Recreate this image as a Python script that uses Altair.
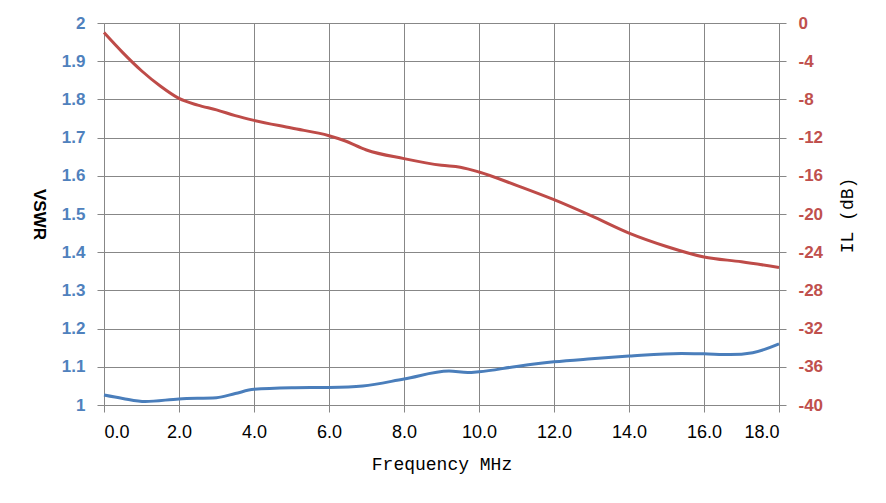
import altair as alt
import pandas as pd

# Insertion loss series (red, right axis)
il_freq = [0, 0.5, 1, 1.5, 2, 2.5, 3, 3.5, 4, 5, 6, 6.4, 7, 8, 9, 9.5, 10, 11, 12, 13, 14, 15, 16, 17, 18]
il_db = [-1.0, -3.1, -5.0, -6.6, -7.9, -8.6, -9.1, -9.7, -10.2, -11.0, -11.8, -12.3, -13.3, -14.2,
         -14.9, -15.1, -15.6, -17.0, -18.5, -20.2, -22.0, -23.4, -24.5, -25.0, -25.6]

# VSWR series (blue, left axis)
vswr_freq = [0, 0.5, 1.1, 2, 3, 3.5, 4, 5, 6, 6.9, 8, 9.2, 9.7, 10, 11, 12, 13, 14, 15.4, 16, 16.7, 17.3, 18]
vswr_val = [1.026, 1.017, 1.009, 1.016, 1.019, 1.030, 1.041, 1.045, 1.046, 1.050, 1.068, 1.089, 1.085,
            1.087, 1.101, 1.113, 1.121, 1.128, 1.135, 1.134, 1.132, 1.137, 1.160]

x_ticks = [0, 2, 4, 6, 8, 10, 12, 14, 16, 18]
vswr_ticks = [1.0, 1.1, 1.2, 1.3, 1.4, 1.5, 1.6, 1.7, 1.8, 1.9, 2.0]
il_ticks = [-40, -36, -32, -28, -24, -20, -16, -12, -8, -4, 0]

BLUE_LINE = "#4A7EBB"
RED_LINE = "#BE4B48"
BLUE_TXT = "#4F81BD"
RED_TXT = "#C0504D"
GRID = "#878787"

df_il = pd.DataFrame({"f": il_freq, "il": il_db})
df_vswr = pd.DataFrame({"f": vswr_freq, "v": vswr_val})

x_enc = alt.X(
    "f:Q",
    scale=alt.Scale(domain=[0, 18], nice=False, zero=False),
    axis=alt.Axis(
        values=x_ticks, format=".1f", title="Frequency MHz",
        grid=True, gridColor=GRID, gridWidth=1,
        domainColor=GRID, tickColor=GRID, tickSize=7,
        labelFont="Liberation Sans", labelFontSize=18, labelColor="#000000", labelPadding=11,
        titleFont="Liberation Mono", titleFontSize=18, titleFontWeight="normal", titleColor="#000000",
        titleX=337.5, titleY=59, titleBaseline="middle",
    ),
)

vswr = alt.Chart(df_vswr).mark_line(color=BLUE_LINE, strokeWidth=3, interpolate="monotone").encode(
    x=x_enc,
    y=alt.Y(
        "v:Q",
        scale=alt.Scale(domain=[1, 2], nice=False, zero=False),
        axis=alt.Axis(
            orient="left", values=vswr_ticks, format="~g", title="VSWR",
            grid=True, gridColor=GRID, gridWidth=1,
            domainColor=GRID, tickColor=GRID, tickSize=7,
            labelFont="Liberation Sans", labelFontSize=17, labelFontWeight="bold",
            labelColor=BLUE_TXT, labelPadding=12,
            titleFont="Liberation Sans", titleFontSize=17, titleFontWeight="bold", titleColor="#000000",
            titleAngle=90, titleX=-66, titleY=191, titleBaseline="middle", titleAlign="center",
        ),
    ),
)

il = alt.Chart(df_il).mark_line(color=RED_LINE, strokeWidth=3, interpolate="monotone").encode(
    x=alt.X("f:Q", scale=alt.Scale(domain=[0, 18], nice=False, zero=False)),
    y=alt.Y(
        "il:Q",
        scale=alt.Scale(domain=[-40, 0], nice=False, zero=False),
        axis=alt.Axis(
            orient="right", values=il_ticks, labelExpr="datum.value + ''", title="IL (dB)",
            grid=False, domainColor=GRID, tickColor=GRID, tickSize=7,
            labelFont="Liberation Sans", labelFontSize=17, labelFontWeight="bold",
            labelColor=RED_TXT, labelPadding=12,
            titleFont="Liberation Mono", titleFontSize=18, titleFontWeight="normal", titleColor="#000000",
            titleAngle=270, titleX=68, titleY=192, titleBaseline="middle", titleAlign="center",
        ),
    ),
)

chart = (
    alt.layer(vswr, il)
    .resolve_scale(y="independent")
    .properties(
        width=675, height=382,
        autosize=alt.AutoSizeParams(type="none"),
        padding={"left": 96, "top": 15, "right": 92, "bottom": 80},
        background="white",
    )
    .configure_view(stroke=None)
)

chart.save("out.html", embed_options={"renderer": "svg", "actions": False})
